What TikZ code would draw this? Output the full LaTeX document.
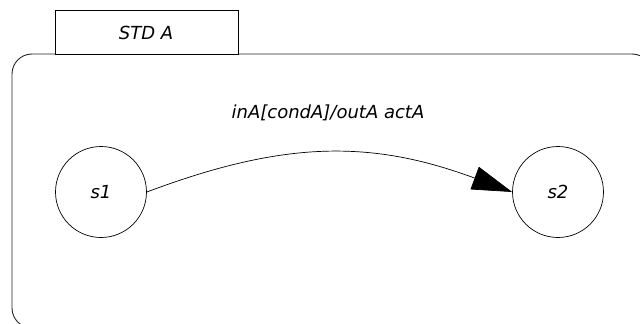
\documentclass[tikz,border=0pt]{standalone}
\usepackage{fontspec}
\setmainfont{DejaVu Sans}
\usetikzlibrary{arrows.meta}
\tikzset{
  frame/.style={draw=black!85, line width=0.9pt, rounded corners=20pt},
  tabbox/.style={draw, line width=0.7pt, fill=white},
  state/.style={circle, draw, line width=0.7pt, minimum size=91pt, inner sep=0pt},
  lbl/.style={font=\fontsize{18}{20}\selectfont\itshape},
  trans/.style={line width=0.7pt, -{Triangle[length=40pt, width=24pt]}}
}
\begin{document}
\begin{tikzpicture}[x=1pt, y=-1pt]
  \useasboundingbox (0,0) rectangle (640,324);
  \begin{scope}
    \clip (0,0) rectangle (640,324);
    % state diagram frame, running past the page edges
    \draw[frame] (12,54) rectangle (652,328);
  \end{scope}
  % name tab
  \draw[tabbox] (55,10) rectangle (238,54);
  \node[lbl] (title) at (146,33) {STD A};
  % states
  \node[state, lbl] (s1) at (101,192) {s1};
  \node[state, lbl] (s2) at (558,192) {s2};
  % transition
  \draw[trans] (s1.east) .. controls (285,140) and (372,140) .. (s2.west);
  \node[lbl] (tlabel) at (328,113) {inA[condA]/outA actA};
\end{tikzpicture}
\end{document}
